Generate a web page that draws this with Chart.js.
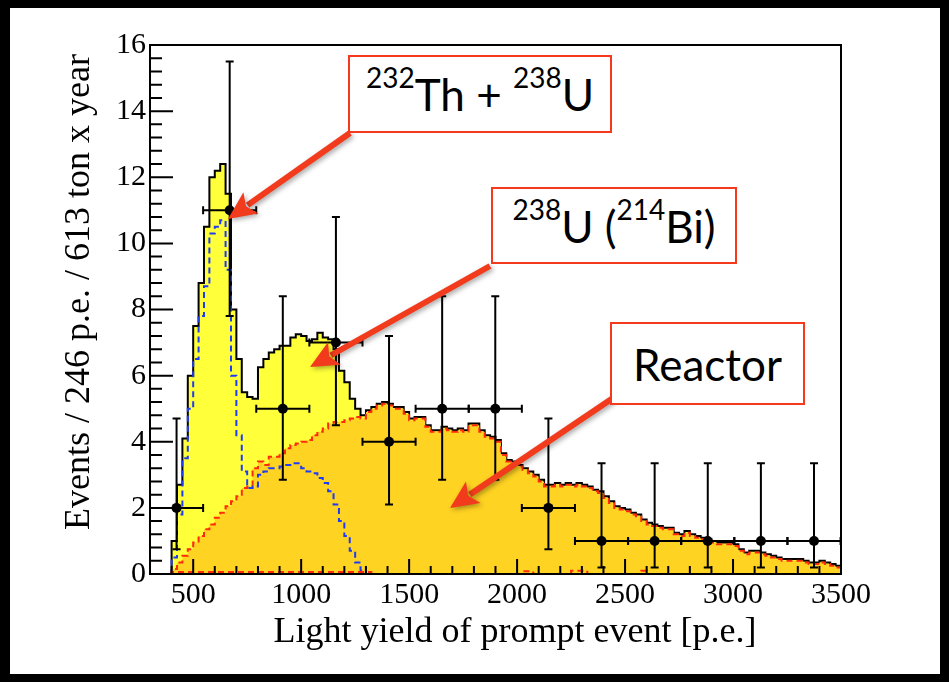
<!DOCTYPE html>
<html>
<head>
<meta charset="utf-8">
<script src="https://cdn.jsdelivr.net/npm/chart.js@4.4.1/dist/chart.umd.min.js"></script>
<style>
  html, body { margin: 0; padding: 0; background: #000; }
  #sheet { position: absolute; left: 10px; top: 8px; width: 930px; height: 666px; background: #fff; }
  #wrap { position: absolute; left: 0; top: 0; width: 949px; height: 682px; }
  .tag {
    position: absolute; box-sizing: border-box;
    border: 2px solid #f5391c; background: #fff;
    font-family: Lato, "Open Sans", sans-serif; font-size: 44px; color: #000;
    display: flex; align-items: center; justify-content: center; white-space: pre;
  }
  .tag sup { font-size: 28px; vertical-align: baseline; position: relative; top: -17px; }
</style>
</head>
<body>
<div id="sheet"></div>
<div id="wrap"><canvas id="myChart" width="949" height="682"></canvas></div>
<div class="tag" style="left:348px; top:55px; width:264px; height:78px;"><sup>232</sup>Th + <sup>238</sup>U</div>
<div class="tag" style="left:491px; top:187px; width:246px; height:77px;"><sup>238</sup>U (<sup>214</sup>Bi)</div>
<div class="tag" style="left:610px; top:322px; width:195px; height:83px;">Reactor</div>

<script>
// fine histogram binning (p.e.)
const binStart = 300;
const binWidth = 25;

// total expectation (yellow, black outline)
const total = [
    0, 0, 0, 0, 1.0, 2.7, 4.1, 6.0, 7.5, 8.8,
    10.5, 12.0, 12.2, 12.4, 11.5, 8.0, 6.5, 5.5, 5.35, 5.3,
    6.25, 6.5, 6.7, 6.8, 6.9, 6.9, 7.15, 7.25, 7.2, 7.05,
    7.1, 7.3, 7.15, 7.1, 6.8, 6.15, 5.8, 5.3, 5.0, 4.8,
    4.95, 5.05, 5.15, 5.2, 5.15, 5.05, 5.05, 4.9, 4.7, 4.75,
    4.75, 4.5, 4.35, 4.35, 4.45, 4.4, 4.35, 4.4, 4.35, 4.55,
    4.55, 4.35, 4.2, 4.15, 4.05, 3.65, 3.45, 3.4, 3.3, 3.2,
    3.1, 3.0, 2.85, 2.7, 2.7, 2.75, 2.7, 2.75, 2.7, 2.75,
    2.7, 2.65, 2.55, 2.5, 2.35, 2.2, 2.05, 2.0, 1.95, 1.85,
    1.8, 1.65, 1.55, 1.5, 1.45, 1.4, 1.4, 1.25, 1.2, 1.3,
    1.2, 1.15, 1.1, 1.05, 1.0, 0.95, 0.95, 0.95, 0.9, 0.75,
    0.65, 0.7, 0.7, 0.65, 0.6, 0.55, 0.5, 0.45, 0.45, 0.45,
    0.45, 0.4, 0.35, 0.35, 0.4, 0.35, 0.3, 0.25
];

// reactor antineutrinos (gold, red dashed outline)
const reactor = [
    0, 0, 0, 0, 0.15, 0.35, 0.55, 0.75, 0.95, 1.15,
    1.35, 1.5, 1.7, 1.85, 2.05, 2.2, 2.35, 2.6, 2.65, 3.2,
    3.4, 3.3, 3.55, 3.55, 3.65, 3.8, 3.9, 3.95, 4.0, 4.05,
    4.2, 4.3, 4.4, 4.55, 4.6, 4.6, 4.65, 4.7, 4.75, 4.7,
    4.9, 5.0, 5.1, 5.15, 5.1, 5.0, 5.0, 4.85, 4.65, 4.7,
    4.7, 4.45, 4.3, 4.3, 4.4, 4.35, 4.3, 4.35, 4.3, 4.5,
    4.5, 4.3, 4.15, 4.1, 4.0, 3.6, 3.4, 3.35, 3.25, 3.15,
    3.05, 2.95, 2.8, 2.65, 2.65, 2.7, 2.65, 2.7, 2.65, 2.7,
    2.65, 2.6, 2.5, 2.45, 2.3, 2.15, 2.0, 1.95, 1.9, 1.8,
    1.75, 1.6, 1.5, 1.45, 1.4, 1.35, 1.35, 1.2, 1.15, 1.25,
    1.15, 1.1, 1.05, 1.0, 0.95, 0.9, 0.9, 0.9, 0.85, 0.7,
    0.6, 0.65, 0.65, 0.6, 0.55, 0.5, 0.45, 0.4, 0.4, 0.4,
    0.4, 0.35, 0.3, 0.3, 0.35, 0.3, 0.25, 0.2
];

// 232Th + 238U geo-neutrinos (blue dashed), zero above 1325 p.e.
const geo = [
    0, 0, 0, 0, 0.5, 1.8, 3.5, 5.0, 6.5, 7.8,
    8.7, 10.3, 10.5, 10.7, 9.2, 6.0, 4.2, 3.1, 2.6, 2.65,
    3.0, 3.1, 3.2, 3.2, 3.25, 3.3, 3.35, 3.35, 3.2, 3.1,
    3.05, 2.9, 2.75, 2.5, 2.1, 1.6, 1.15, 0.7, 0.35, 0.1,
    0
];

// small residual background (red dashed, near zero)
const lowBkg = [
    0, 0, 0, 0, 0.06, 0.06, 0.06, 0.06, 0.06, 0.06,
    0.06, 0.06, 0.06, 0.06, 0.06, 0.06, 0.06, 0.06, 0.06, 0.06,
    0.06, 0.06, 0.06, 0.06, 0.06, 0.06, 0.06, 0.06, 0.06, 0.06,
    0.06, 0.06, 0.06, 0.06, 0.06, 0.06, 0.06, 0.06, 0.06, 0.06,
    0.06, 0, 0, 0, 0, 0, 0, 0, 0, 0,
    0, 0, 0, 0, 0, 0, 0, 0, 0, 0,
    0, 0, 0, 0, 0, 0, 0, 0, 0, 0.08,
    0.08, 0, 0, 0, 0, 0, 0, 0, 0.1, 0.1,
    0.1, 0, 0, 0, 0, 0, 0, 0, 0, 0,
    0, 0.1, 0, 0, 0, 0, 0, 0, 0, 0
];

// measured candidates, 246 p.e. bins
const dataX = [423, 669, 915, 1161, 1407, 1653, 1899, 2145, 2391, 2637, 2883, 3129, 3375];
const dataY = [2, 11, 5, 7, 4, 5, 5, 2, 1, 1, 1, 1, 1];
const dataLow = [0.75, 7.8, 2.85, 4.5, 2.1, 2.85, 2.85, 0.75, 0.2, 0.2, 0.2, 0.2, 0.2];
const dataHigh = [4.7, 15.5, 8.4, 10.8, 7.2, 8.4, 8.4, 4.7, 3.35, 3.35, 3.35, 3.35, 3.35];
const dataHalfWidth = 123;

const xTicks = [500, 1000, 1500, 2000, 2500, 3000, 3500];
const yTicks = [0, 2, 4, 6, 8, 10, 12, 14, 16];

function histPoints(values) {
    let pts = values.map((v, i) => ({ x: binStart + i * binWidth, y: v }));
    pts.push({ x: binStart + values.length * binWidth, y: values[values.length - 1] });
    return pts;
}

// ROOT style frame: ticks on the inside, plain box around the pad
const framePlugin = {
    id: 'frame',
    afterDatasetsDraw(chart) {
        const { ctx, chartArea: a, scales: { x, y } } = chart;
        ctx.save();
        ctx.strokeStyle = '#000';
        ctx.lineWidth = 2;

        // error bars of the data points
        dataX.forEach((cx, i) => {
            const px = x.getPixelForValue(cx);
            const py = y.getPixelForValue(dataY[i]);
            const x0 = x.getPixelForValue(cx - dataHalfWidth);
            const x1 = x.getPixelForValue(cx + dataHalfWidth);
            const y0 = y.getPixelForValue(dataLow[i]);
            const y1 = y.getPixelForValue(dataHigh[i]);
            ctx.beginPath();
            ctx.moveTo(x0, py); ctx.lineTo(x1, py);
            ctx.moveTo(px, y0); ctx.lineTo(px, y1);
            ctx.moveTo(x0, py - 4); ctx.lineTo(x0, py + 4);
            ctx.moveTo(x1, py - 4); ctx.lineTo(x1, py + 4);
            ctx.moveTo(px - 4, y0); ctx.lineTo(px + 4, y0);
            ctx.moveTo(px - 4, y1); ctx.lineTo(px + 4, y1);
            ctx.stroke();
        });

        ctx.beginPath();
        for (let v = 300; v <= 3500; v += 100) {
            const px = x.getPixelForValue(v);
            const len = v % 500 === 0 ? 15 : 8;
            ctx.moveTo(px, a.bottom);
            ctx.lineTo(px, a.bottom - len);
        }
        for (let k = 0; k <= 40; k++) {
            const py = y.getPixelForValue(k * 0.4);
            const len = k % 5 === 0 ? 23 : 12;
            ctx.moveTo(a.left, py);
            ctx.lineTo(a.left + len, py);
        }
        ctx.stroke();
        ctx.strokeRect(a.left, a.top, a.right - a.left, a.bottom - a.top);
        ctx.restore();
    },
    afterDraw(chart) {
        const ctx = chart.ctx;
        ctx.save();
        ctx.fillStyle = '#000';
        ctx.font = '36px "Liberation Serif"';
        ctx.textAlign = 'center';
        ctx.textBaseline = 'alphabetic';
        ctx.fillText('Light yield of prompt event [p.e.]', 515, 642);
        ctx.translate(89, 292);
        ctx.rotate(-Math.PI / 2);
        ctx.fillText('Events / 246 p.e. / 613 ton x year', 0, 0);
        ctx.restore();

        // callout arrows
        const arrows = [[350, 133, 228, 219], [490, 266, 310, 367], [613, 398, 450, 508]];
        ctx.save();
        ctx.shadowColor = 'rgba(0,0,0,0.35)';
        ctx.shadowBlur = 5;
        ctx.shadowOffsetX = 2;
        ctx.shadowOffsetY = 2;
        ctx.strokeStyle = '#f23b1d';
        ctx.fillStyle = '#f23b1d';
        arrows.forEach(([sx, sy, tx, ty]) => {
            const ang = Math.atan2(ty - sy, tx - sx);
            const headLen = 28, headHalf = 13;
            const bx = tx - headLen * Math.cos(ang);
            const by = ty - headLen * Math.sin(ang);
            ctx.lineWidth = 6;
            ctx.beginPath();
            ctx.moveTo(sx, sy);
            ctx.lineTo(bx + 4 * Math.cos(ang), by + 4 * Math.sin(ang));
            ctx.stroke();
            ctx.beginPath();
            ctx.moveTo(tx, ty);
            ctx.lineTo(bx - headHalf * Math.sin(ang), by + headHalf * Math.cos(ang));
            ctx.lineTo(bx + 6 * Math.cos(ang), by + 6 * Math.sin(ang));
            ctx.lineTo(bx + headHalf * Math.sin(ang), by - headHalf * Math.cos(ang));
            ctx.closePath();
            ctx.fill();
        });
        ctx.restore();
    }
};

let ctx = document.getElementById('myChart').getContext('2d');

let myChart = new Chart(ctx, {
    type: 'line',
    data: {
        datasets: [{
            label: 'Total',
            data: histPoints(total),
            stepped: true,
            fill: 'origin',
            backgroundColor: '#ffff3a',
            borderColor: '#000',
            borderWidth: 2,
            pointRadius: 0,
            order: 5
        },
        {
            label: 'Reactor',
            data: histPoints(reactor),
            stepped: true,
            fill: 'origin',
            backgroundColor: '#ffd322',
            borderColor: '#ff2a0a',
            borderWidth: 2,
            borderDash: [6, 4],
            pointRadius: 0,
            order: 4
        },
        {
            label: '232Th + 238U',
            data: histPoints(geo),
            stepped: true,
            fill: false,
            borderColor: '#1f3cf5',
            borderWidth: 2,
            borderDash: [6, 4],
            pointRadius: 0,
            order: 3
        },
        {
            label: 'Other',
            data: histPoints(lowBkg),
            stepped: true,
            fill: false,
            borderColor: '#ff2a0a',
            borderWidth: 2,
            borderDash: [6, 4],
            pointRadius: 0,
            order: 2
        },
        {
            label: 'Data',
            data: dataX.map((v, i) => ({ x: v, y: dataY[i] })),
            showLine: false,
            pointRadius: 5,
            pointBackgroundColor: '#000',
            pointBorderWidth: 0,
            order: 1
        }]
    },
    options: {
        responsive: false,
        animation: false,
        layout: { padding: { left: 0, top: 45, right: 108, bottom: 0 } },
        plugins: {
            legend: { display: false },
            tooltip: { enabled: false }
        },
        scales: {
            x: {
                type: 'linear',
                min: 300,
                max: 3500,
                grid: { display: false, drawTicks: false },
                border: { display: false },
                ticks: {
                    color: '#000',
                    font: { family: 'Liberation Serif', size: 30 },
                    padding: 3,
                    maxRotation: 0,
                    autoSkip: false,
                    callback: v => String(v)
                },
                afterBuildTicks: s => { s.ticks = xTicks.map(v => ({ value: v })); },
                afterFit: s => { s.height = 108; }
            },
            y: {
                min: 0,
                max: 16,
                grid: { display: false, drawTicks: false },
                border: { display: false },
                ticks: {
                    color: '#000',
                    font: { family: 'Liberation Serif', size: 30 },
                    padding: 4,
                    autoSkip: false,
                    callback: v => String(v)
                },
                afterBuildTicks: s => { s.ticks = yTicks.map(v => ({ value: v })); },
                afterFit: s => { s.width = 150; }
            }
        }
    },
    plugins: [framePlugin]
});
</script>
</body>
</html>
